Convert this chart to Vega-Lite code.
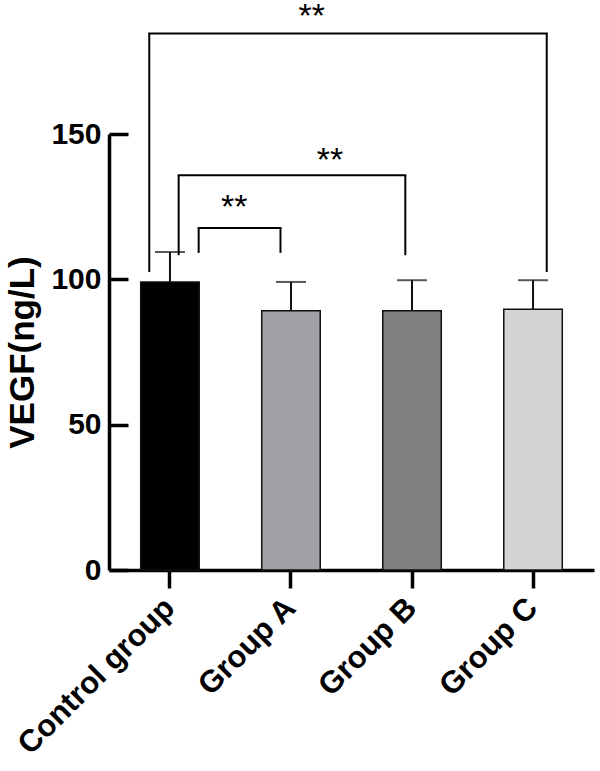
{
  "$schema": "https://vega.github.io/schema/vega-lite/v6.json",
  "width": 485,
  "height": 436,
  "padding": {"left": 5, "top": 0, "right": 5, "bottom": 5},
  "background": "white",
  "config": {"view": {"stroke": null}, "font": "Liberation Sans"},
  "datasets": {
    "bars": [
      {"group": "Control group", "mean": 99.1, "upper": 109.4},
      {"group": "Group A", "mean": 89.2, "upper": 99.1},
      {"group": "Group B", "mean": 89.2, "upper": 99.7},
      {"group": "Group C", "mean": 89.7, "upper": 99.7}
    ],
    "brackets": [
      {"id": 1, "from": "Control group", "to": "Group C", "top": 184.6, "endL": 102.5, "endR": 102.5, "label": "**"},
      {"id": 2, "from": "Control group", "to": "Group B", "top": 135.8, "endL": 108.3, "endR": 108.3, "label": "**"},
      {"id": 3, "from": "Control group", "to": "Group A", "top": 117.7, "endL": 109.1, "endR": 109.1, "label": "**"}
    ]
  },
  "layer": [
    {
      "data": {"name": "bars"},
      "mark": {"type": "bar", "stroke": "#111111", "strokeWidth": 1.5, "clip": false},
      "encoding": {
        "x": {
          "field": "group", "type": "nominal",
          "scale": {"domain": ["Control group", "Group A", "Group B", "Group C"], "paddingInner": 0.5165, "paddingOuter": 0.262},
          "axis": {
            "title": null, "domainColor": "#000000", "domainWidth": 3.5,
            "tickColor": "#000000", "tickSize": 18, "tickWidth": 3.5,
            "labelAngle": -45, "labelAlign": "right", "labelBaseline": "middle",
            "labelFontSize": 31, "labelFontWeight": "bold", "labelColor": "#000000",
            "labelPadding": 15, "labelFont": "Liberation Sans", "labelLimit": 0
          }
        },
        "y": {
          "field": "mean", "type": "quantitative",
          "scale": {"domain": [0, 150], "nice": false},
          "axis": {
            "title": "VEGF(ng/L)", "values": [0, 50, 100, 150], "grid": false,
            "domainColor": "#000000", "domainWidth": 3.5,
            "tickColor": "#000000", "tickSize": -19, "tickWidth": 3.5,
            "labelPadding": 27, "labelFontSize": 30, "labelFontWeight": "bold",
            "labelColor": "#000000", "labelFont": "Liberation Sans",
            "titleFontSize": 35, "titleFontWeight": "bold", "titleColor": "#000000",
            "titleFont": "Liberation Sans", "titlePadding": 10
          }
        },
        "color": {
          "field": "group", "type": "nominal",
          "scale": {"domain": ["Control group", "Group A", "Group B", "Group C"], "range": ["#000000", "#a1a1a5", "#808080", "#d4d4d4"]},
          "legend": null
        }
      }
    },
    {
      "data": {"name": "bars"},
      "mark": {"type": "rule", "color": "#111111", "strokeWidth": 2, "clip": false},
      "encoding": {
        "x": {"field": "group", "type": "nominal"},
        "y": {"field": "mean", "type": "quantitative"},
        "y2": {"field": "upper"}
      }
    },
    {
      "data": {"name": "bars"},
      "mark": {"type": "tick", "color": "#111111", "size": 30, "thickness": 2, "orient": "horizontal", "clip": false},
      "encoding": {
        "x": {"field": "group", "type": "nominal"},
        "y": {"field": "upper", "type": "quantitative"}
      }
    },
    {
      "data": {"name": "brackets"},
      "transform": [{"filter": "datum.id == 1"}],
      "layer": [
        {
          "mark": {"type": "rule", "color": "#000000", "strokeWidth": 2, "strokeCap": "square", "xOffset": -20.7, "x2Offset": 13.7, "clip": false},
          "encoding": {
            "x": {"field": "from", "type": "nominal"},
            "x2": {"field": "to"},
            "y": {"field": "top", "type": "quantitative"}
          }
        },
        {
          "mark": {"type": "rule", "color": "#000000", "strokeWidth": 2, "xOffset": -20.7, "clip": false},
          "encoding": {
            "x": {"field": "from", "type": "nominal"},
            "y": {"field": "top", "type": "quantitative"},
            "y2": {"field": "endL"}
          }
        },
        {
          "mark": {"type": "rule", "color": "#000000", "strokeWidth": 2, "xOffset": 13.7, "clip": false},
          "encoding": {
            "x": {"field": "to", "type": "nominal"},
            "y": {"field": "top", "type": "quantitative"},
            "y2": {"field": "endR"}
          }
        },
        {
          "mark": {"type": "text", "font": "Liberation Sans", "fontSize": 34, "color": "#000000", "baseline": "alphabetic", "align": "center", "dx": 141.7, "dy": -6, "clip": false},
          "encoding": {
            "x": {"field": "from", "type": "nominal"},
            "y": {"field": "top", "type": "quantitative"},
            "text": {"field": "label"}
          }
        }
      ]
    },
    {
      "data": {"name": "brackets"},
      "transform": [{"filter": "datum.id == 2"}],
      "layer": [
        {
          "mark": {"type": "rule", "color": "#000000", "strokeWidth": 2, "strokeCap": "square", "xOffset": 8.7, "x2Offset": -6.7, "clip": false},
          "encoding": {
            "x": {"field": "from", "type": "nominal"},
            "x2": {"field": "to"},
            "y": {"field": "top", "type": "quantitative"}
          }
        },
        {
          "mark": {"type": "rule", "color": "#000000", "strokeWidth": 2, "xOffset": 8.7, "clip": false},
          "encoding": {
            "x": {"field": "from", "type": "nominal"},
            "y": {"field": "top", "type": "quantitative"},
            "y2": {"field": "endL"}
          }
        },
        {
          "mark": {"type": "rule", "color": "#000000", "strokeWidth": 2, "xOffset": -6.7, "clip": false},
          "encoding": {
            "x": {"field": "to", "type": "nominal"},
            "y": {"field": "top", "type": "quantitative"},
            "y2": {"field": "endR"}
          }
        },
        {
          "mark": {"type": "text", "font": "Liberation Sans", "fontSize": 34, "color": "#000000", "baseline": "alphabetic", "align": "center", "dx": 160, "dy": -4, "clip": false},
          "encoding": {
            "x": {"field": "from", "type": "nominal"},
            "y": {"field": "top", "type": "quantitative"},
            "text": {"field": "label"}
          }
        }
      ]
    },
    {
      "data": {"name": "brackets"},
      "transform": [{"filter": "datum.id == 3"}],
      "layer": [
        {
          "mark": {"type": "rule", "color": "#000000", "strokeWidth": 2, "strokeCap": "square", "xOffset": 28.7, "x2Offset": -10.5, "clip": false},
          "encoding": {
            "x": {"field": "from", "type": "nominal"},
            "x2": {"field": "to"},
            "y": {"field": "top", "type": "quantitative"}
          }
        },
        {
          "mark": {"type": "rule", "color": "#000000", "strokeWidth": 2, "xOffset": 28.7, "clip": false},
          "encoding": {
            "x": {"field": "from", "type": "nominal"},
            "y": {"field": "top", "type": "quantitative"},
            "y2": {"field": "endL"}
          }
        },
        {
          "mark": {"type": "rule", "color": "#000000", "strokeWidth": 2, "xOffset": -10.5, "clip": false},
          "encoding": {
            "x": {"field": "to", "type": "nominal"},
            "y": {"field": "top", "type": "quantitative"},
            "y2": {"field": "endR"}
          }
        },
        {
          "mark": {"type": "text", "font": "Liberation Sans", "fontSize": 34, "color": "#000000", "baseline": "alphabetic", "align": "center", "dx": 64.3, "dy": -10, "clip": false},
          "encoding": {
            "x": {"field": "from", "type": "nominal"},
            "y": {"field": "top", "type": "quantitative"},
            "text": {"field": "label"}
          }
        }
      ]
    }
  ]
}
